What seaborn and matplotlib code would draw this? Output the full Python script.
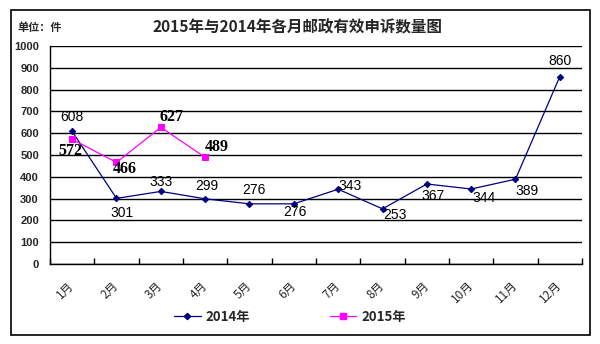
import numpy as np
import pandas as pd
import matplotlib
matplotlib.use("Agg")
import matplotlib.pyplot as plt
from matplotlib.patches import Rectangle
from matplotlib.lines import Line2D
import seaborn as sns

sns.set_theme(style="white")
plt.rcParams['font.family'] = ['Noto Sans CJK SC', 'DejaVu Sans']

months = ["1月", "2月", "3月", "4月", "5月", "6月", "7月", "8月", "9月", "10月", "11月", "12月"]
values_2014 = [608, 301, 333, 299, 276, 276, 343, 253, 367, 344, 389, 860]
values_2015 = [572, 466, 627, 489]
series_names = ["2014年", "2015年"]
y_ticks = [0, 100, 200, 300, 400, 500, 600, 700, 800, 900, 1000]

# label offsets in pixels (dx, dy) for each point
off_2014 = [(0, 14), (5, -15), (0, 9), (2, 13), (4, 14), (1, -8), (12, 3), (12, -6),
            (6, -12), (13, -9), (11, -12), (0, 16)]
off_2015 = [(-2, -12), (8, -7), (11, 10), (12, 10)]

df14 = pd.DataFrame({"pos": np.arange(len(values_2014)), "value": values_2014})
df15 = pd.DataFrame({"pos": np.arange(len(values_2015)), "value": values_2015})

fig = plt.figure(figsize=(6.0, 3.44), dpi=100)
W, H = 600, 344

# outer frame
fig.patches.append(Rectangle((11 / W, 1 - 335 / H), (590 - 11) / W, (335 - 10) / H,
                             transform=fig.transFigure, fill=False,
                             edgecolor="black", linewidth=1.2, zorder=0))

ax = fig.add_axes([50 / W, 1 - 264 / H, (582 - 50) / W, (264 - 46) / H])

sns.lineplot(data=df14, x="pos", y="value", ax=ax, color="#000080", linewidth=0.9,
             marker="D", markersize=3.2, markeredgecolor="#000080", zorder=3)
sns.lineplot(data=df15, x="pos", y="value", ax=ax, color="#FF00FF", linewidth=0.9,
             marker="s", markersize=5, markeredgecolor="#FF00FF", zorder=3)

ax.set_xlim(-0.5, len(months) - 0.5)
ax.set_ylim(0, 1000)
ax.set_xlabel("")
ax.set_ylabel("")

# horizontal gridlines
ax.set_yticks(y_ticks)
ax.set_yticklabels([str(v) for v in y_ticks], fontsize=8, fontweight="bold",
                   family=["Liberation Sans"])
ax.yaxis.grid(True, color="black", linewidth=1.0)
ax.xaxis.grid(False)
ax.tick_params(axis="y", length=0, pad=8)

# category boundary ticks + centred month labels
ax.set_xticks(np.arange(len(months) + 1) - 0.5)
ax.set_xticklabels([])
ax.set_xticks(np.arange(len(months)), minor=True)
ax.set_xticklabels(months, minor=True, rotation=45, ha="right", va="center",
                   rotation_mode="anchor", fontsize=8.5)
ax.tick_params(axis="x", which="major", direction="in", length=4, width=1, color="black",
               bottom=True)
ax.tick_params(axis="x", which="minor", length=0, pad=14)

for side in ["top", "right"]:
    ax.spines[side].set_visible(False)
for side in ["left", "bottom"]:
    ax.spines[side].set_color("black")
    ax.spines[side].set_linewidth(1.0)
ax.set_axisbelow(True)

# data labels
for i, v in enumerate(values_2014):
    dx, dy = off_2014[i]
    ax.annotate(str(v), (i, v), xytext=(dx, dy), textcoords="offset pixels",
                ha="center", va="center", fontsize=10,
                family=["Liberation Sans"], color="black")
for i, v in enumerate(values_2015):
    dx, dy = off_2015[i]
    ax.annotate(str(v), (i, v), xytext=(dx, dy), textcoords="offset pixels",
                ha="center", va="center", fontsize=11.5, fontweight="bold",
                family=["Liberation Serif"], color="black")

# titles
fig.text(297 / W, 1 - 27 / H, "2015年与2014年各月邮政有效申诉数量图", ha="center", va="center",
         fontsize=11.2, fontweight="bold")
fig.text(17 / W, 1 - 27 / H, "单位：件", ha="left", va="center", fontsize=8, fontweight="bold")

# legend
handles = [
    Line2D([], [], color="#000080", linewidth=0.9, marker="D", markersize=3.2),
    Line2D([], [], color="#FF00FF", linewidth=0.9, marker="s", markersize=5),
]
fig.legend(handles, series_names, loc="center", bbox_to_anchor=(290 / W, 1 - 317 / H),
           ncol=2, frameon=False, handlelength=2.0, columnspacing=6.0, handletextpad=0.4,
           prop={"size": 9.5, "weight": "bold"})

fig.savefig("out.png", dpi=100)
